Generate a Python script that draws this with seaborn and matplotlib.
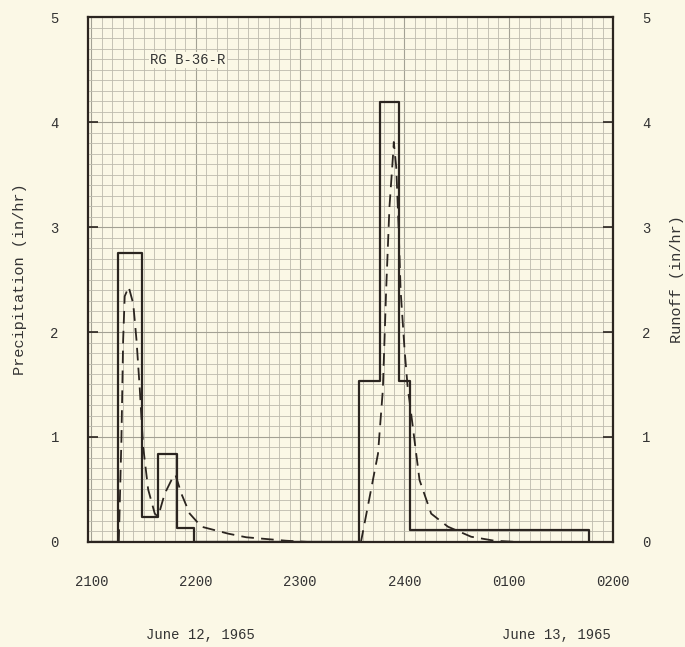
import numpy as np
import pandas as pd
import seaborn as sns
import matplotlib.pyplot as plt
from matplotlib.ticker import MultipleLocator

# Dados (minutos após 2100, June 12, 1965)
precip_min = [0, 15.3, 29.3, 38.3, 49.3, 59.0, 153.7, 166.1, 176.8, 183.5, 286.4]
precip_val = [0, 2.75, 0.24, 0.84, 0.13, 0.0, 1.53, 4.19, 1.53, 0.11, 0.0]

runoff_min = [15.7, 17.2, 18.2, 19.1, 21.4, 24.0, 25.9, 27.8, 29.7, 32.6, 36.4, 38.3,
              42.1, 46.9, 48.3, 51.7, 56.5, 63.2, 78.5, 89.0, 112.0, 125.0,
              155.0, 164.8, 167.6, 169.5, 171.4, 173.4, 173.9, 175.3, 176.6, 177.8,
              180.1, 182.0, 182.9, 188.7, 195.4, 205.0, 218.4, 231.8, 245.0]
runoff_val = [0.0, 0.97, 1.92, 2.34, 2.43, 2.27, 1.92, 1.45, 0.91, 0.50, 0.27, 0.24,
              0.46, 0.62, 0.64, 0.46, 0.27, 0.146, 0.08, 0.045, 0.012, 0.0,
              0.0, 0.84, 1.45, 2.4, 3.19, 3.67, 3.81, 3.57, 3.03, 2.4,
              1.83, 1.45, 1.35, 0.59, 0.27, 0.146, 0.05, 0.012, 0.0]

tick_min = [0, 60, 120, 180, 240, 300]
tick_lbl = ["2100", "2200", "2300", "2400", "0100", "0200"]
y_ticks = [0, 1, 2, 3, 4, 5]

df_p = pd.DataFrame({"t": precip_min, "v": precip_val})
df_r = pd.DataFrame({"t": runoff_min, "v": runoff_val})

sns.set_style("white")
plt.rcParams["font.family"] = ["Liberation Mono", "DejaVu Sans Mono"]

bg = "#fbf8e6"
ink = "#2b2520"
txt = "#333333"
fs = 10
fs_lbl = 11

fig = plt.figure(figsize=(6.85, 6.47), dpi=100, facecolor=bg)
ax = fig.add_axes([0.1285, 0.1623, 0.7664, 0.8114])
ax.set_facecolor(bg)

sns.lineplot(data=df_p, x="t", y="v", ax=ax, color=ink, lw=1.6,
             drawstyle="steps-post", estimator=None, sort=False)
sns.lineplot(data=df_r, x="t", y="v", ax=ax, color=ink, lw=1.3,
             estimator=None, sort=False, dashes=False, linestyle=(0, (7, 4)))

ax.set_xlim(-2, 300)
ax.set_ylim(0, 5)

# eixo direito (Runoff) - mesma escala
ax2 = ax.twinx()
ax2.set_ylim(0, 5)
ax2.set_yticks([])
ax2.set_ylabel("Runoff (in/hr)", fontsize=fs_lbl, color=txt, labelpad=41)
for s in ax2.spines.values():
    s.set_visible(False)

# papel milimetrado
ax.set_xticks(tick_min)
ax.set_xticklabels(tick_lbl, fontsize=fs, color=txt)
ax.set_yticks(y_ticks)
ax.set_yticklabels([str(v) for v in y_ticks], fontsize=fs, color=txt)
ax.xaxis.set_minor_locator(MultipleLocator(6))
ax.yaxis.set_minor_locator(MultipleLocator(0.1))
ax.grid(which="minor", color="#bdbbad", lw=0.6)
ax.grid(which="major", color="#a3a194", lw=0.8)
ax.set_axisbelow(True)

ax.tick_params(axis="x", which="both", length=0, pad=24)
ax.tick_params(axis="y", which="major", direction="in", length=7, width=1.2,
               color=ink, pad=21, right=True, labelright=True, left=True,
               labelleft=True)
ax.tick_params(axis="y", which="minor", length=0)

for s in ax.spines.values():
    s.set_color(ink)
    s.set_linewidth(1.6)

ax.set_xlabel("")
ax.set_ylabel("Precipitation (in/hr)", fontsize=fs_lbl, color=txt, labelpad=17)

ax.text(0.118, 0.918, "RG B-36-R", transform=ax.transAxes, fontsize=fs,
        color=txt, ha="left", va="center",
        bbox=dict(facecolor=bg, edgecolor="none", pad=1))

fig.text(0.292, 0.012, "June 12, 1965", fontsize=fs, color=txt, ha="center")
fig.text(0.813, 0.012, "June 13, 1965", fontsize=fs, color=txt, ha="center")

fig.savefig("out.png", dpi=100, facecolor=bg)
